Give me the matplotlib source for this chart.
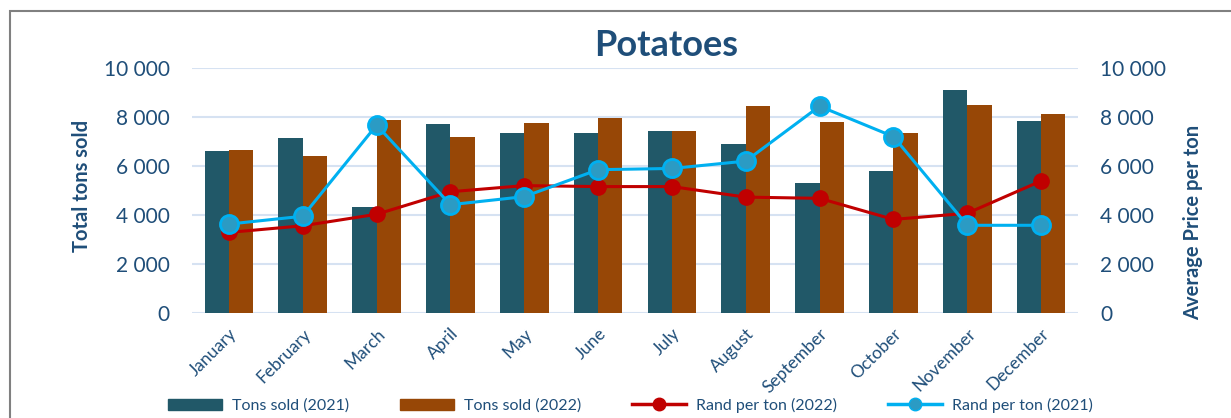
import matplotlib.pyplot as plt
import numpy as np
from matplotlib.patches import Rectangle
from matplotlib.lines import Line2D
from matplotlib.ticker import FuncFormatter

plt.rcParams['font.family'] = ['Lato', 'DejaVu Sans']

months = ['January', 'February', 'March', 'April', 'May', 'June', 'July',
          'August', 'September', 'October', 'November', 'December']
tons_2021 = [6630, 7160, 4340, 7730, 7360, 7360, 7410, 6910, 5320, 5810, 9100, 7820]
tons_2022 = [6650, 6420, 7890, 7200, 7770, 7950, 7430, 8450, 7780, 7360, 8500, 8120]
rand_2022 = [3290, 3560, 4030, 4950, 5200, 5160, 5160, 4730, 4680, 3820, 4070, 5390]
rand_2021 = [3630, 3950, 7670, 4420, 4750, 5850, 5900, 6200, 8440, 7200, 3580, 3580]

txt = '#1f4e79'
c21 = '#215868'
c22 = '#974706'
cred = '#c00000'
cblue = '#00b0f0'

fig = plt.figure(figsize=(12.31, 4.18), dpi=100)
ax = fig.add_axes([0.156, 0.2512, 0.7197, 0.5861])
ax2 = ax.twinx()

x = np.arange(len(months))
w = 0.33
ax.bar(x - w / 2, tons_2021, w, color=c21, zorder=2)
ax.bar(x + w / 2, tons_2022, w, color=c22, zorder=2)

ax2.plot(x, rand_2022, color=cred, lw=2.2, marker='o', markersize=11,
         markerfacecolor=cred, markeredgecolor=cred, zorder=3)
ax2.plot(x, rand_2021, color=cblue, lw=2.2, marker='o', markersize=13,
         markerfacecolor='#2b9bc4', markeredgecolor=cblue, markeredgewidth=2, zorder=4)

fmt = FuncFormatter(lambda v, p: f'{int(v):,}'.replace(',', ' '))
for a in (ax, ax2):
    a.set_ylim(0, 10000)
    a.set_yticks(range(0, 10001, 2000))
    a.yaxis.set_major_formatter(fmt)
    for s in a.spines.values():
        s.set_visible(False)
    a.tick_params(axis='y', length=0, labelsize=15, labelcolor=txt, pad=16)

ax.set_xlim(-0.5, 11.5)
ax.grid(axis='y', color='#d6e2f2', lw=1.5, zorder=0)
ax.set_axisbelow(True)
ax.set_xticks(x)
ax.set_xticklabels(months, rotation=45, ha='right', rotation_mode='anchor',
                   fontsize=12.5, color=txt)
ax.tick_params(axis='x', length=0, pad=9)

fig.text(0.541, 0.892, 'Potatoes', ha='center', va='center', fontsize=26,
         fontweight='bold', color=txt)
fig.text(0.0666, 0.555, 'Total tons sold', rotation=90, ha='center', va='center',
         fontsize=14.5, fontweight='bold', color=txt)
fig.text(0.969, 0.469, 'Average Price per ton', rotation=90, ha='center', va='center',
         fontsize=14.5, fontweight='bold', color=txt)

handles = [Rectangle((0, 0), 1, 1, color=c21),
           Rectangle((0, 0), 1, 1, color=c22),
           Line2D([], [], color=cred, lw=2.5, marker='o', markersize=9),
           Line2D([], [], color=cblue, lw=2.5, marker='o', markersize=9,
                  markerfacecolor='#2b9bc4', markeredgecolor=cblue)]
labels = ['Tons sold (2021)', 'Tons sold (2022)', 'Rand per ton (2022)', 'Rand per ton (2021)']
leg = fig.legend(handles, labels, loc='center', bbox_to_anchor=(0.512, 0.03), ncol=4,
                 frameon=False, fontsize=11.5, handlelength=3.4, handleheight=0.7,
                 columnspacing=3.2, handletextpad=0.6)
for t in leg.get_texts():
    t.set_color(txt)

fig.add_artist(Rectangle((10 / 1231, -0.1), 1.5, 1 - 11 / 418 + 0.1,
                         transform=fig.transFigure, fill=False,
                         edgecolor='#808080', lw=1.5))

fig.savefig('out.png', dpi=100)
